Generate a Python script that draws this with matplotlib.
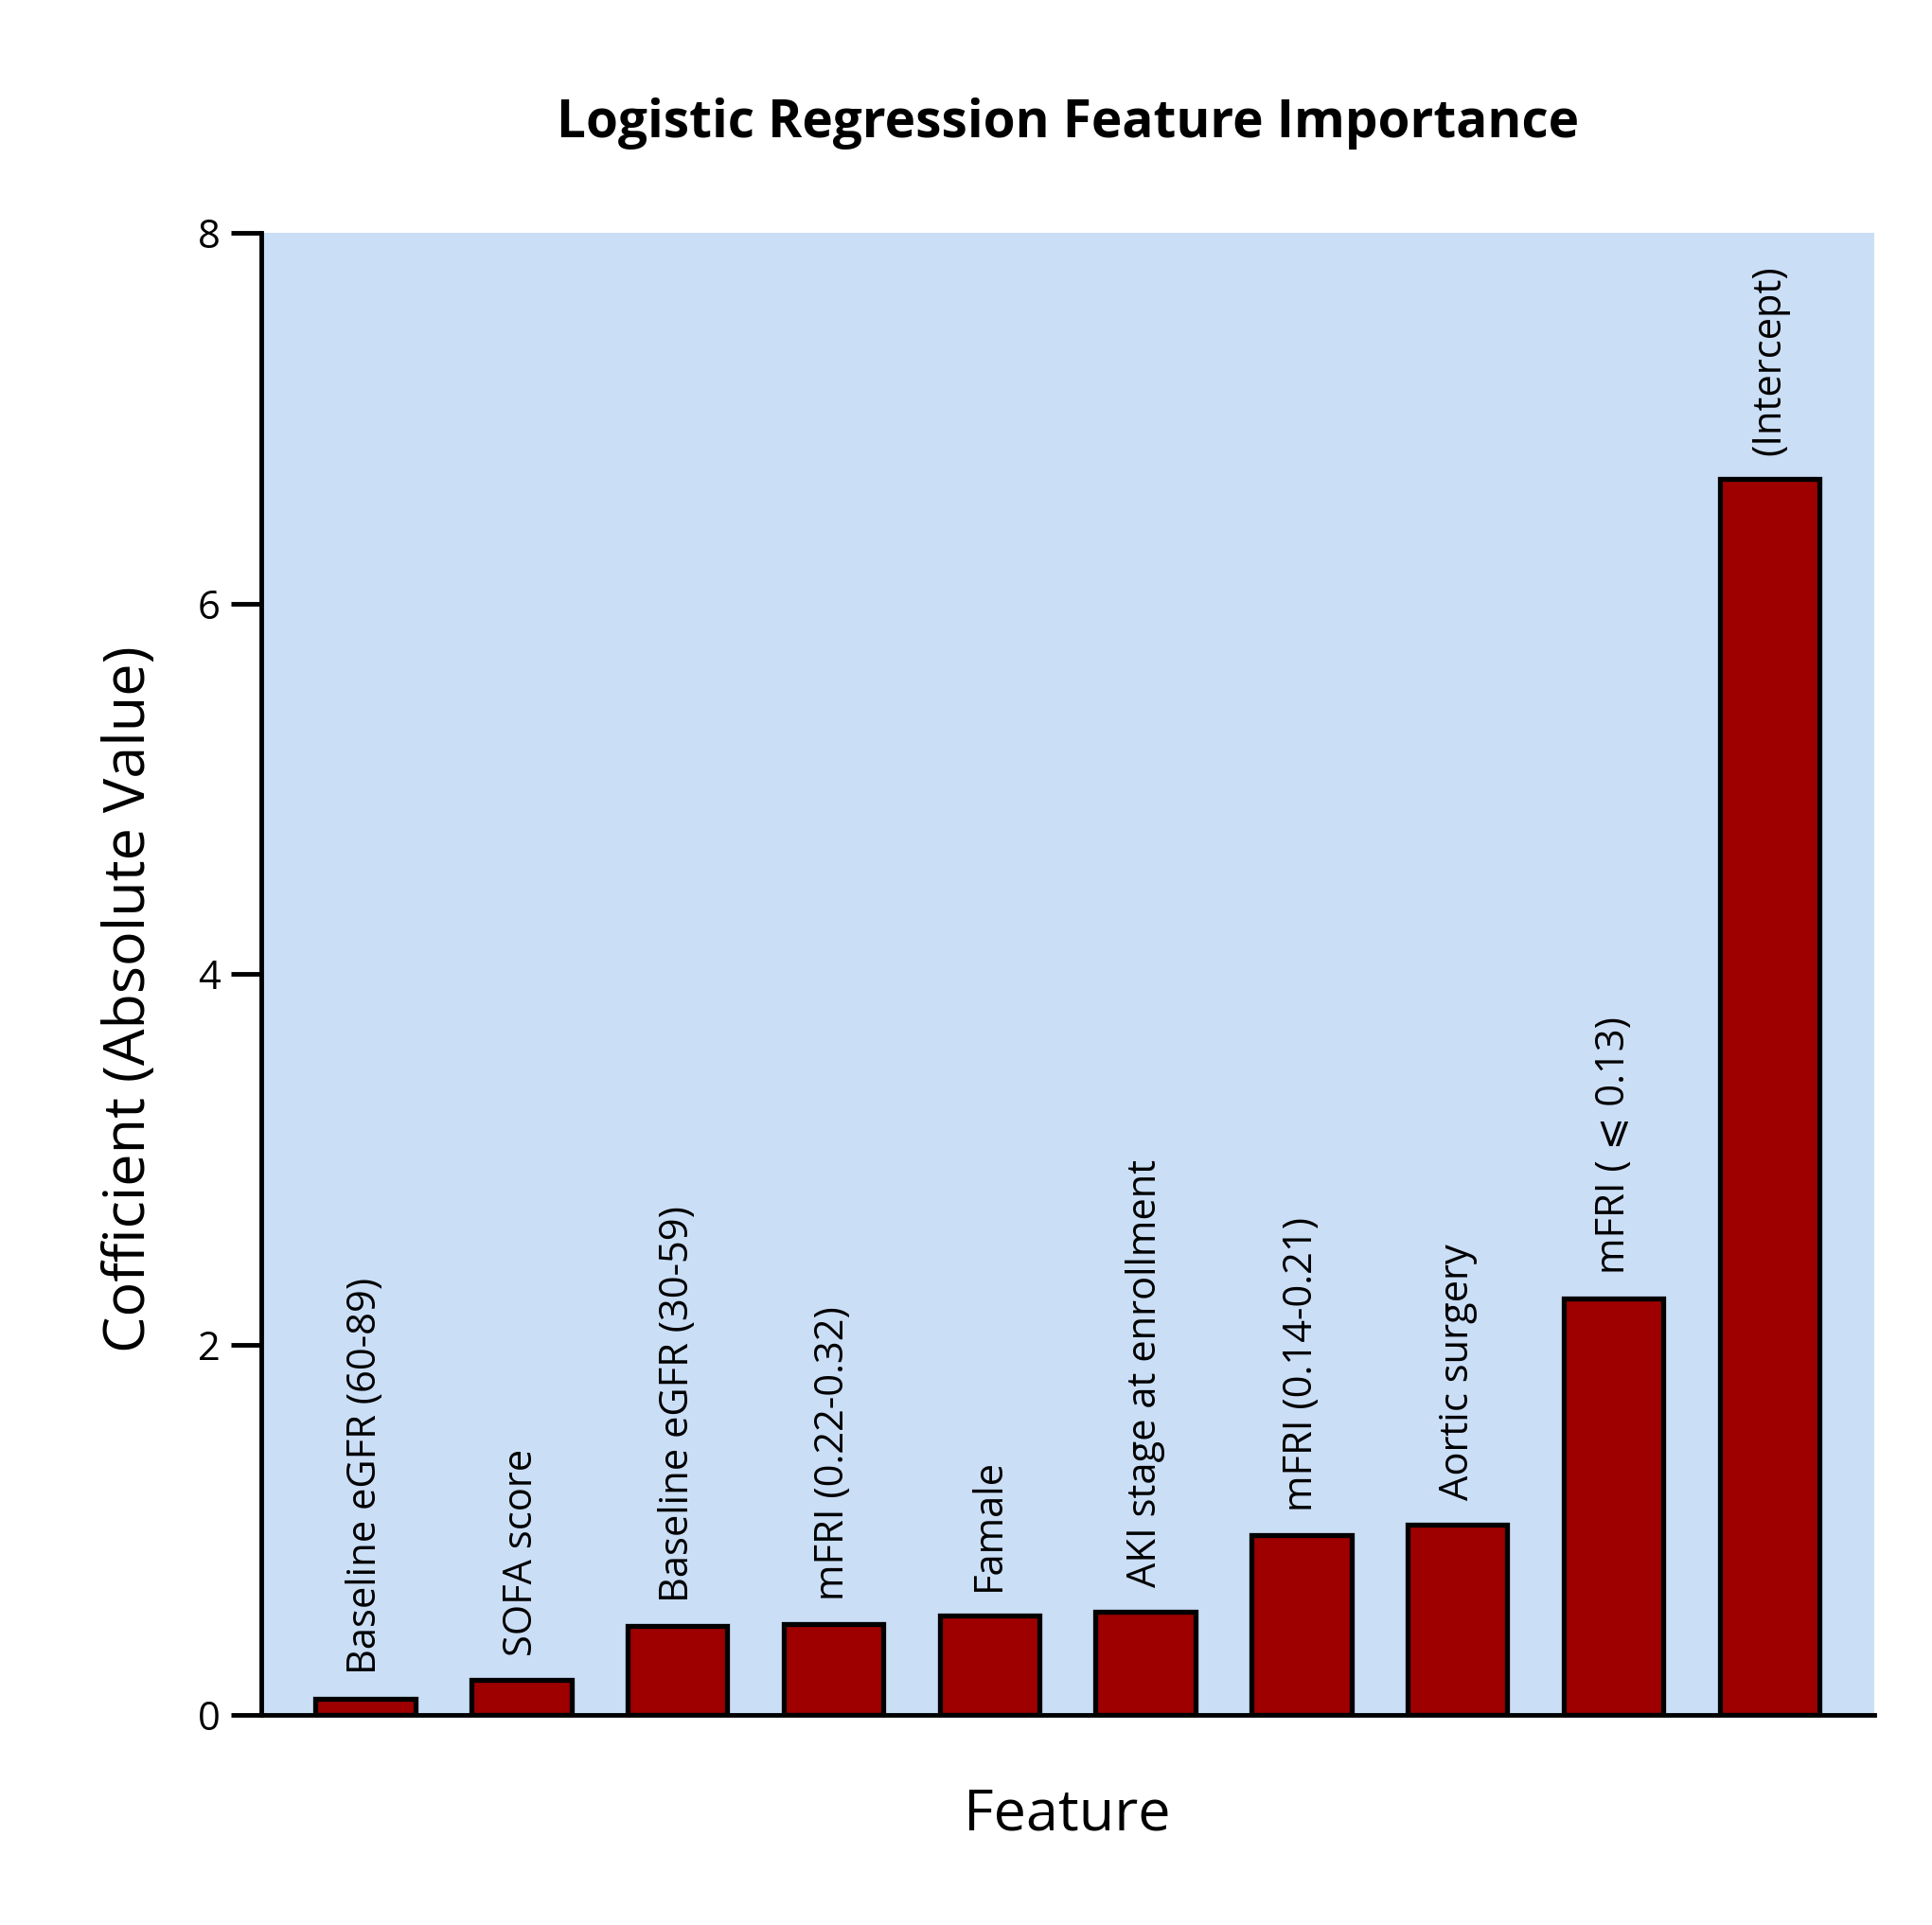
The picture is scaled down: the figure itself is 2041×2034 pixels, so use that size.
import matplotlib
matplotlib.use("Agg")
import matplotlib.pyplot as plt

plt.rcParams['font.family'] = ['Open Sans', 'DejaVu Sans']

features = ["Baseline eGFR (60-89)", "SOFA score", "Baseline eGFR (30-59)",
            "mFRI (0.22-0.32)", "Famale", "AKI stage at enrollment",
            "mFRI (0.14-0.21)", "Aortic surgery", "mFRI ( \u2A7D 0.13)", "(Intercept)"]
coefs = [0.09, 0.19, 0.48, 0.49, 0.54, 0.56, 0.97, 1.03, 2.25, 6.67]
yticks = [0, 2, 4, 6, 8]

fig = plt.figure(figsize=(20.41, 20.34), dpi=100)
ax = fig.add_axes([0.135, 0.109, 0.835, 0.770])
ax.set_facecolor('#CADEF6')

x = list(range(len(features)))
ax.bar(x, coefs, width=0.64, color='#9E0000', edgecolor='black', linewidth=3.8, zorder=3)
for xi, v, lab in zip(x, coefs, features):
    ax.text(xi, v + 0.13, lab, rotation=90, ha='center', va='bottom', fontsize=30)

ax.set_xlim(-0.67, 9.67)
ax.set_ylim(0, 8)
ax.set_yticks(yticks)
ax.set_yticklabels([str(t) for t in yticks], fontsize=30)
ax.set_xticks([])
for s in ['top', 'right']:
    ax.spines[s].set_visible(False)
for s in ['left', 'bottom']:
    ax.spines[s].set_linewidth(3.5)
ax.tick_params(axis='y', length=23, width=3.5, pad=8)

ax.set_ylabel("Cofficient (Absolute Value)", fontsize=44, labelpad=30, y=0.483)
ax.set_xlabel("Feature", fontsize=44, labelpad=54)
ax.set_title("Logistic Regression Feature Importance", fontsize=39.5, fontweight='bold', pad=73)

fig.savefig("out.png", dpi=100)
